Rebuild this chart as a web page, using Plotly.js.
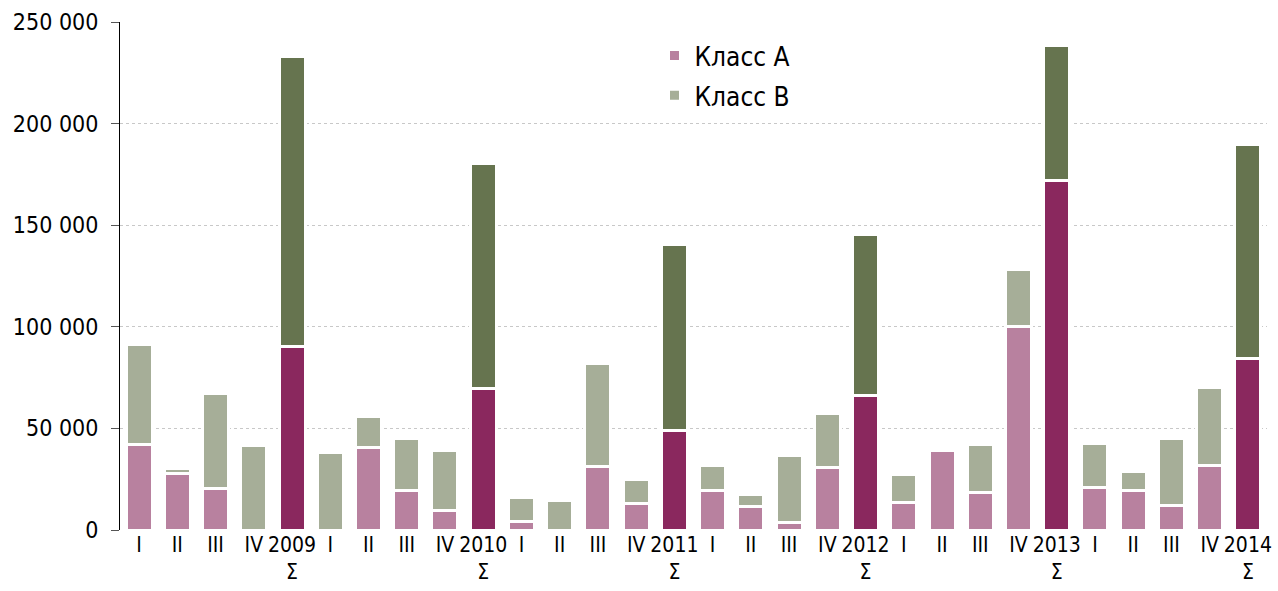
<!DOCTYPE html>
<html>
<head>
<meta charset="utf-8">
<script src="https://cdn.plot.ly/plotly-3.0.1.min.js"></script>
<style>html,body{margin:0;padding:0;background:#fff;}#chart{width:1278px;height:591px;}</style>
</head>
<body>
<div id="chart"></div>
<script>
// Categories: 6 years x (I, II, III, IV, Σ)
const years = ["2009", "2010", "2011", "2012", "2013", "2014"];
const periods = ["I", "II", "III", "IV", "Σ"];

// Values, per year: I, II, III, IV, Σ
const classA = [
  42200, 27700, 20200, 0, 90200,
  0, 40400, 19200, 9800, 69500,
  4400, 0, 31300, 12800, 49100,
  19500, 11500, 3800, 30800, 66300,
  13500, 38900, 18500, 100100, 172200,
  20800, 19400, 12000, 31800, 84300
];
const classB = [
  49000, 2800, 47200, 41700, 142800,
  38200, 15600, 25900, 29100, 111100,
  11800, 14600, 50400, 12300, 91200,
  12000, 6100, 32800, 26600, 78900,
  13600, 0, 23500, 27900, 66200,
  21700, 9600, 33100, 38400, 105200
];

const ids = [], labels = [], isTotal = [];
years.forEach(y => periods.forEach(p => {
  ids.push(y + " " + p);
  labels.push(p === "Σ" ? y + "<br>Σ" : p);
  isTotal.push(p === "Σ");
}));

const colA = isTotal.map(t => t ? "#8a285e" : "#b8819f");
const colB = isTotal.map(t => t ? "#66744f" : "#a6ae98");

const traces = [
  {type: "bar", name: "Класс A", x: ids, y: classA, legendgroup: "a",
   marker: {color: colA, line: {color: "#ffffff", width: 3}}},
  {type: "bar", name: "Класс B", x: ids, y: classB, legendgroup: "b",
   marker: {color: colB, line: {color: "#ffffff", width: 3}}}
];

const font = "'DejaVu Sans Condensed', 'DejaVu Sans', sans-serif";
const layout = {
  width: 1278, height: 591,
  margin: {l: 120, r: 11, t: 22, b: 61},
  paper_bgcolor: "#fff", plot_bgcolor: "#fff",
  barmode: "stack", bargap: 0.32,
  separators: ". ",
  font: {family: font, color: "#000", size: 21},
  showlegend: true,
  legend: {x: 0.466, y: 0.98, xanchor: "left", yanchor: "top",
    traceorder: "grouped", tracegroupgap: 3,
    font: {family: font, size: 26, color: "#000"}, bgcolor: "rgba(0,0,0,0)"},
  xaxis: {type: "category", tickmode: "array", tickvals: ids, ticktext: labels,
    range: [-0.5, ids.length - 0.5], showgrid: false, showline: false, zeroline: false,
    ticks: "", tickangle: 0, tickfont: {family: font, size: 21, color: "#000"}},
  yaxis: {range: [0, 250000], dtick: 50000, tickformat: ",d",
    showline: true, linecolor: "#000", linewidth: 1,
    ticks: "outside", ticklen: 8, tickcolor: "#555", tickwidth: 1,
    showgrid: true, gridcolor: "#c8c8c8", griddash: "dot", gridwidth: 1,
    zeroline: false, ticklabelstandoff: 8,
    tickfont: {family: font, size: 23, color: "#000"}}
};

Plotly.newPlot("chart", traces, layout, {displayModeBar: false, staticPlot: true});
</script>
</body>
</html>
